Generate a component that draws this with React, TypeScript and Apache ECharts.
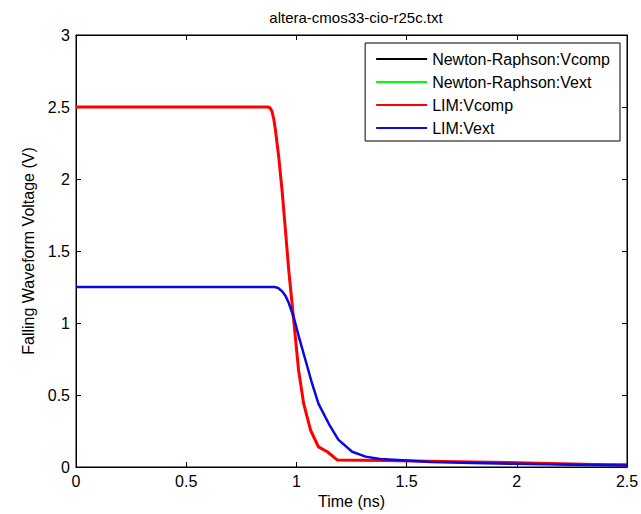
import React, { useEffect, useRef } from "react";
import * as echarts from "echarts";

const titleText = "altera-cmos33-cio-r25c.txt";
const xAxisName = "Time (ns)";
const yAxisName = "Falling Waveform Voltage (V)";
const seriesNames = ["Newton-Raphson:Vcomp", "Newton-Raphson:Vext", "LIM:Vcomp", "LIM:Vext"];
const seriesColors = ["#000000", "#00ff00", "#ff0000", "#0a0ae0"];

const compTime = [0, 0.5, 0.87, 0.88, 0.889, 0.897, 0.905, 0.92, 0.935, 0.95, 0.965, 0.98, 0.995, 1.01, 1.033, 1.064, 1.1, 1.14, 1.185, 1.4, 1.6, 1.8, 2.0, 2.2, 2.35, 2.5];
const compVolt = [2.5, 2.5, 2.5, 2.495, 2.47, 2.42, 2.34, 2.15, 1.92, 1.65, 1.37, 1.14, 0.905, 0.67, 0.44, 0.257, 0.14, 0.106, 0.049, 0.045, 0.04, 0.035, 0.03, 0.022, 0.018, 0.015];

const extTime = [0, 0.5, 0.9, 0.91, 0.92, 0.935, 0.95, 0.965, 0.988, 1.011, 1.041, 1.071, 1.1, 1.147, 1.19, 1.253, 1.314, 1.38, 1.5, 1.61, 1.8, 2.0, 2.25, 2.5];
const extVolt = [1.25, 1.25, 1.25, 1.247, 1.24, 1.22, 1.19, 1.14, 1.04, 0.905, 0.743, 0.58, 0.44, 0.3, 0.19, 0.106, 0.072, 0.055, 0.045, 0.035, 0.028, 0.022, 0.015, 0.01];

const xTicks = { min: 0, max: 2.5, interval: 0.5 };
const yTicks = { min: 0, max: 3, interval: 0.5 };

const pairs = (t: number[], v: number[]) => t.map((x, i) => [x, v[i]]);

export default function App() {
  const ref = useRef<HTMLDivElement>(null);
  useEffect(() => {
    if (!ref.current) return;
    const chart = echarts.init(ref.current, null, { renderer: "svg" });
    const font = "'Liberation Sans', Arial, sans-serif";
    const axisCommon = {
      axisLine: { show: true, onZero: false, lineStyle: { color: "#000", width: 1 } },
      axisTick: { show: true, inside: true, length: 5, lineStyle: { color: "#000" } },
      splitLine: { show: false },
    };
    const dataSets = [
      pairs(compTime, compVolt),
      pairs(extTime, extVolt),
      pairs(compTime, compVolt),
      pairs(extTime, extVolt),
    ];
    const widths = [1, 1, 3, 2.5];
    chart.setOption({
      animation: false,
      backgroundColor: "#fff",
      title: {
        text: titleText,
        left: 351,
        textAlign: "center",
        top: 5,
        textStyle: { fontFamily: font, fontSize: 15, fontWeight: "normal", color: "#000" },
      },
      grid: {
        left: 76, right: 14, top: 35, bottom: 47,
        show: true, borderColor: "#000", borderWidth: 1,
        containLabel: false, outerBoundsMode: "none",
      },
      legend: {
        orient: "vertical",
        right: 21,
        top: 43,
        backgroundColor: "#fff",
        borderColor: "#000",
        borderWidth: 1,
        padding: [8, 10, 5, 11],
        itemGap: 7,
        itemWidth: 51,
        itemHeight: 2,
        icon: "rect",
        textStyle: { fontFamily: font, fontSize: 16, color: "#000" },
        data: seriesNames,
      },
      xAxis: [
        {
          type: "value",
          ...xTicks,
          position: "bottom",
          ...axisCommon,
          name: xAxisName,
          nameLocation: "middle",
          nameGap: 25,
          nameTextStyle: { fontFamily: font, fontSize: 16, color: "#000" },
          axisLabel: { fontFamily: font, fontSize: 16, color: "#000", margin: 6 },
        },
        {
          type: "value",
          ...xTicks,
          position: "top",
          ...axisCommon,
          axisLabel: { show: false },
        },
      ],
      yAxis: [
        {
          type: "value",
          ...yTicks,
          position: "left",
          ...axisCommon,
          name: yAxisName,
          nameLocation: "middle",
          nameGap: 38,
          nameTextStyle: { fontFamily: font, fontSize: 16, color: "#000" },
          axisLabel: { fontFamily: font, fontSize: 16, color: "#000", margin: 6 },
        },
        {
          type: "value",
          ...yTicks,
          position: "right",
          ...axisCommon,
          axisLabel: { show: false },
        },
      ],
      series: seriesNames.map((name, i) => ({
        name,
        type: "line",
        data: dataSets[i],
        symbol: "none",
        color: seriesColors[i],
        lineStyle: { color: seriesColors[i], width: widths[i], join: "round" },
        z: 2 + i,
      })),
    });
    return () => chart.dispose();
  }, []);
  return <div ref={ref} style={{ width: 641, height: 514, position: "absolute", left: 0, top: 0 }} />;
}
